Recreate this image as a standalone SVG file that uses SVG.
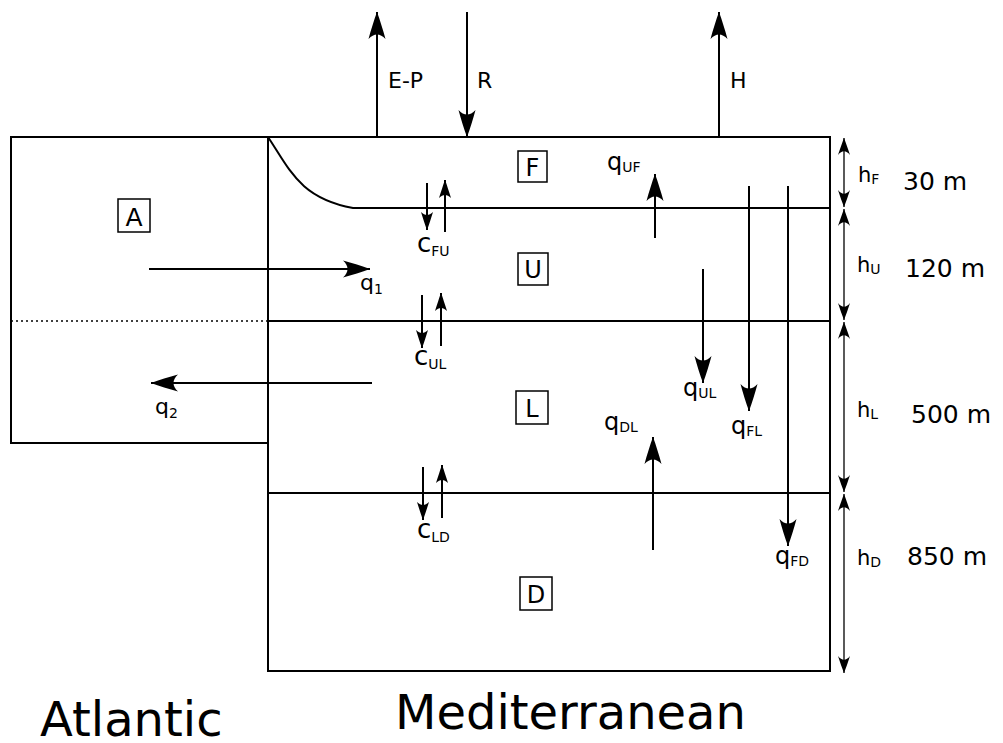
<svg xmlns="http://www.w3.org/2000/svg" width="1003" height="743" viewBox="0 0 1003 743">
<defs>
<style>
.ln{stroke:#000;stroke-width:2;fill:none}
.thin{stroke:#000;stroke-width:1.3;fill:none}
.t{font-family:"DejaVu Sans","Liberation Sans",sans-serif;fill:#000}
.sub{font-size:14px}
.box{fill:#fff;stroke:#000;stroke-width:1.5}
</style>
<marker id="big" markerUnits="userSpaceOnUse" viewBox="-28 -10 30 20" refX="0" refY="0" markerWidth="30" markerHeight="20" orient="auto" overflow="visible">
<path d="M0,0 C-8,-3 -18,-6 -27,-8.5 C-21,-3 -21,3 -27,8.5 C-18,6 -8,3 0,0 Z" fill="#000"/>
</marker>
<marker id="sm" markerUnits="userSpaceOnUse" viewBox="-20 -8 22 16" refX="0" refY="0" markerWidth="22" markerHeight="16" orient="auto" overflow="visible">
<path d="M0,0 C-5,-2 -12,-4 -18,-6 C-14,-2 -14,2 -18,6 C-12,4 -5,2 0,0 Z" fill="#000"/>
</marker>
<marker id="dim" markerUnits="userSpaceOnUse" viewBox="-20 -8 22 16" refX="0" refY="0" markerWidth="22" markerHeight="16" orient="auto-start-reverse" overflow="visible">
<path d="M0,0 C-5,-2 -11,-4 -17,-6 C-12,-2 -12,2 -17,6 C-11,4 -5,2 0,0 Z" fill="#000"/>
</marker>
</defs>
<rect width="1003" height="743" fill="#fff"/>

<g id="basins">
<rect x="11" y="137" width="257" height="306" class="ln"/>
<rect x="268" y="137" width="562" height="534" class="ln"/>
<line x1="11" y1="321" x2="268" y2="321" stroke="#000" stroke-width="1.5" stroke-dasharray="2,3"/>
<path d="M268,137 C290,170 300,198 353,208 L830,208" class="ln"/>
<line x1="268" y1="321" x2="830" y2="321" class="ln"/>
<line x1="268" y1="493" x2="830" y2="493" class="ln"/>
</g>

<g id="A"><rect x="118" y="199" width="32" height="33" class="box"/><text x="134" y="226" class="t" font-size="25" text-anchor="middle">A</text></g>
<g id="F"><rect x="518" y="151" width="29" height="31" class="box"/><text x="532.5" y="176" class="t" font-size="24" text-anchor="middle">F</text></g>
<g id="U"><rect x="518" y="253" width="30" height="32" class="box"/><text x="533" y="278" class="t" font-size="24" text-anchor="middle">U</text></g>
<g id="L"><rect x="516" y="391" width="32" height="33" class="box"/><text x="532" y="417" class="t" font-size="24" text-anchor="middle">L</text></g>
<g id="D"><rect x="520" y="577" width="32" height="33" class="box"/><text x="536" y="603" class="t" font-size="24" text-anchor="middle">D</text></g>

<g id="connectors">
<line x1="377" y1="137" x2="377" y2="12" class="ln" marker-end="url(#big)"/>
<line x1="467" y1="12" x2="467" y2="137" class="ln" marker-end="url(#big)"/>
<line x1="719" y1="137" x2="719" y2="12" class="ln" marker-end="url(#big)"/>
<line x1="149" y1="269" x2="370" y2="269" class="ln" marker-end="url(#big)"/>
<line x1="372" y1="383" x2="151" y2="383" class="ln" marker-end="url(#big)"/>
<line x1="427" y1="183" x2="427" y2="230" class="ln" marker-end="url(#sm)"/>
<line x1="445" y1="232" x2="445" y2="180" class="ln" marker-end="url(#sm)"/>
<line x1="422" y1="295" x2="422" y2="348" class="ln" marker-end="url(#sm)"/>
<line x1="441" y1="346" x2="441" y2="293" class="ln" marker-end="url(#sm)"/>
<line x1="423" y1="467" x2="423" y2="520" class="ln" marker-end="url(#sm)"/>
<line x1="442" y1="518" x2="442" y2="465" class="ln" marker-end="url(#sm)"/>
<line x1="655" y1="238" x2="655" y2="174" class="ln" marker-end="url(#big)"/>
<line x1="703" y1="269" x2="703" y2="383" class="ln" marker-end="url(#big)"/>
<line x1="749" y1="186" x2="749" y2="411" class="ln" marker-end="url(#big)"/>
<line x1="788" y1="186" x2="788" y2="546" class="ln" marker-end="url(#big)"/>
<line x1="653" y1="550" x2="653" y2="437" class="ln" marker-end="url(#big)"/>
<line x1="844" y1="138" x2="844" y2="207" class="thin" marker-start="url(#dim)" marker-end="url(#dim)"/>
<line x1="844" y1="209" x2="844" y2="320" class="thin" marker-start="url(#dim)" marker-end="url(#dim)"/>
<line x1="844" y1="322" x2="844" y2="492" class="thin" marker-start="url(#dim)" marker-end="url(#dim)"/>
<line x1="844" y1="494" x2="844" y2="673" class="thin" marker-start="url(#dim)" marker-end="url(#dim)"/>
</g>

<g id="labels">
<text x="388" y="88" class="t" font-size="22">E-P</text>
<text x="477" y="88" class="t" font-size="22">R</text>
<text x="730" y="88" class="t" font-size="22">H</text>
<text x="360" y="290" class="t" font-size="22">q<tspan class="sub" dy="4">1</tspan></text>
<text x="155" y="414" class="t" font-size="22">q<tspan class="sub" dy="4">2</tspan></text>
<text x="417" y="252" class="t" font-size="26">c<tspan class="sub" font-size="16" dy="4">FU</tspan></text>
<text x="414" y="365" class="t" font-size="26">c<tspan class="sub" font-size="16" dy="4">UL</tspan></text>
<text x="417" y="538" class="t" font-size="26">c<tspan class="sub" font-size="16" dy="4">LD</tspan></text>
<text x="607" y="170" class="t" font-size="24">q<tspan class="sub" font-size="15" dy="2">UF</tspan></text>
<text x="683" y="396" class="t" font-size="24">q<tspan class="sub" font-size="15" dy="2">UL</tspan></text>
<text x="731" y="434" class="t" font-size="24">q<tspan class="sub" font-size="15" dy="2">FL</tspan></text>
<text x="604" y="430" class="t" font-size="24">q<tspan class="sub" font-size="15" dy="2">DL</tspan></text>
<text x="775" y="564" class="t" font-size="24">q<tspan class="sub" font-size="15" dy="2">FD</tspan></text>
<text x="858" y="182" class="t" font-size="21">h<tspan class="sub" font-size="13" dy="2">F</tspan></text>
<text x="903" y="190" class="t" font-size="25">30 m</text>
<text x="857" y="272" class="t" font-size="21">h<tspan class="sub" font-size="13" dy="2">U</tspan></text>
<text x="905" y="277" class="t" font-size="25">120 m</text>
<text x="857" y="417" class="t" font-size="21">h<tspan class="sub" font-size="13" dy="2">L</tspan></text>
<text x="911" y="423" class="t" font-size="25">500 m</text>
<text x="857" y="565" class="t" font-size="21">h<tspan class="sub" font-size="13" dy="2">D</tspan></text>
<text x="907" y="565" class="t" font-size="25">850 m</text>
<text x="40" y="736" class="t" font-size="48">Atlantic</text>
<text x="395" y="729" class="t" font-size="48">Mediterranean</text>
</g>
</svg>
